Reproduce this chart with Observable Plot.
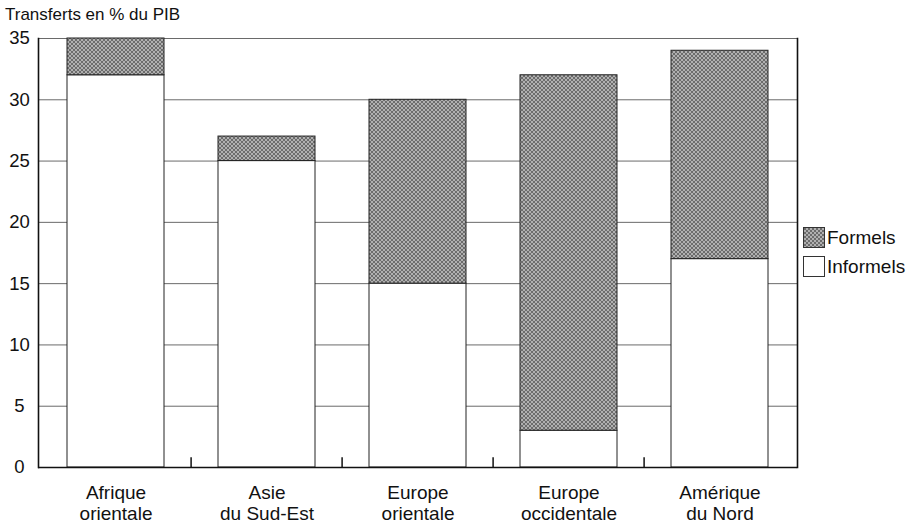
<!DOCTYPE html>
<html>
<head>
<meta charset="utf-8">
<script src="https://cdn.jsdelivr.net/npm/d3@7"></script>
<script src="https://cdn.jsdelivr.net/npm/@observablehq/plot@0.6"></script>
<style>
  html, body { margin: 0; padding: 0; background: #fff; }
  body { width: 916px; height: 525px; position: relative; overflow: hidden;
         font-family: "Liberation Sans", Arial, Helvetica, sans-serif; color: #111; }
  #title { position: absolute; left: 5px; top: 5px; font-size: 17px; }
  #legend { position: absolute; left: 803px; top: 223px; font-size: 19px; }
  .item { display: flex; align-items: center; height: 29px; }
  .item svg { margin-right: 2px; }
  #chart svg g[aria-label="x-axis tick label"] text { font-size: 19px; }
  #chart svg g[aria-label="y-axis tick label"] text { font-size: 18.5px; }
</style>
</head>
<body>
<div id="chart"></div>
<div id="title">Transferts en % du PIB</div>
<div id="legend"></div>
<script>
const categories = ["Afrique\norientale", "Asie\ndu Sud-Est", "Europe\norientale", "Europe\noccidentale", "Amérique\ndu Nord"];
const informels = [32, 25, 15, 3, 17];
const formels = [3, 2, 15, 29, 17];
const yTicks = [0, 5, 10, 15, 20, 25, 30, 35];
const seriesNames = ["Formels", "Informels"];

const W = 916, H = 525;
const mL = 38, mR = 119, mT = 38, mB = 58;
const step = (W - mL - mR) / categories.length;

const rows = categories.map((c, i) => ({
  cat: c,
  inf0: 0, inf1: informels[i],
  for0: informels[i], for1: informels[i] + formels[i]
}));

const chart = Plot.plot({
  width: W, height: H,
  marginLeft: mL, marginRight: mR, marginTop: mT, marginBottom: mB,
  style: { fontFamily: '"Liberation Sans", Arial, sans-serif', color: "#111", background: "white" },
  x: { type: "band", domain: categories, paddingInner: 0.36, paddingOuter: 0.18, label: null },
  y: { domain: [0, 35], label: null },
  marks: [
    Plot.ruleY(yTicks.filter(d => d > 0), { stroke: "#6a6a6a", strokeWidth: 1 }),
    Plot.barY(rows, { x: "cat", y1: "inf0", y2: "inf1", fill: "white", stroke: "#222", strokeWidth: 1, inset: 0 }),
    Plot.barY(rows, { x: "cat", y1: "for0", y2: "for1", fill: "url(#hatch)", stroke: "#222", strokeWidth: 1, inset: 0 }),
    Plot.ruleX(categories.slice(1), { x: d => d, y1: 0, y2: 0.8, dx: -step / 2, stroke: "#111", strokeWidth: 1.5 }),
    Plot.ruleY([0], { stroke: "#111", strokeWidth: 1.6 }),
    Plot.frame({ anchor: "left", stroke: "#111", strokeWidth: 1.6 }),
    Plot.frame({ anchor: "right", stroke: "#111", strokeWidth: 1.6 }),
    Plot.axisY({ ticks: yTicks, tickSize: 0, tickPadding: 19, textAnchor: "middle", label: null }),
    Plot.axisX({ tickSize: 0, tickPadding: 17, label: null, lineHeight: 1.1 })
  ]
});

// hatch pattern
const svg = d3.select(chart);
const defs = svg.insert("defs", ":first-child");
function addHatch(d, id) {
  const p = d.append("pattern").attr("id", id).attr("patternUnits", "userSpaceOnUse")
    .attr("width", 4).attr("height", 4);
  p.append("rect").attr("width", 4).attr("height", 4).attr("fill", "#b0b0b0");
  p.append("path").attr("d", "M0,0L4,4M4,0L0,4M-1,3L1,5M3,-1L5,1M-1,1L1,-1M3,5L5,3")
    .attr("stroke", "#555").attr("stroke-width", 0.75);
}
addHatch(defs, "hatch");
document.getElementById("chart").appendChild(chart);

// legend
const legend = d3.select("#legend");
seriesNames.forEach(name => {
  const item = legend.append("div").attr("class", "item");
  const s = item.append("svg").attr("width", 22).attr("height", 21);
  if (name === "Formels") {
    addHatch(s.append("defs"), "hatchL");
  }
  s.append("rect").attr("x", 0.5).attr("y", 0.5).attr("width", 21).attr("height", 20)
    .attr("fill", name === "Formels" ? "url(#hatchL)" : "white").attr("stroke", "#333");
  item.append("span").text(name);
});
</script>
</body>
</html>
